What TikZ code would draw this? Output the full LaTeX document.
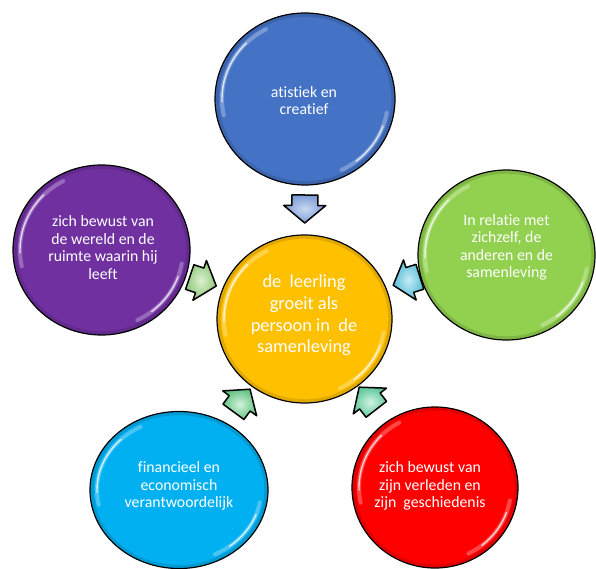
\documentclass[tikz,border=0pt]{standalone}
\usepackage{fontspec}
\setmainfont{Carlito}[Ligatures={NoCommon,NoContextual}]
\usetikzlibrary{shapes.geometric,calc}
\definecolor{cblue}{HTML}{4472C4}
\definecolor{cyellow}{HTML}{FFC000}
\definecolor{cgreen}{HTML}{92D050}
\definecolor{cpurple}{HTML}{7030A0}
\definecolor{ccyan}{HTML}{00B0F0}
\definecolor{cred}{HTML}{FF0000}
\definecolor{abluein}{HTML}{C9D8F2}\definecolor{ablueout}{HTML}{7D9DD6}
\definecolor{agreenin}{HTML}{DDF2D0}\definecolor{agreenout}{HTML}{8FC77A}
\definecolor{acyanin}{HTML}{C6ECF5}\definecolor{acyanout}{HTML}{55BDD6}
\definecolor{amintin}{HTML}{D2F2DB}\definecolor{amintout}{HTML}{66C383}
\definecolor{aseain}{HTML}{D0F3E4}\definecolor{aseaout}{HTML}{62C89C}
\tikzset{
  bub/.style={ellipse, draw=black, line width=1.2pt, inner sep=0pt, outer sep=0pt},
  btxt/.style={text=white, align=center, inner sep=0pt, font=\fontsize{15.8}{17.4}\selectfont},
  ctxt/.style={text=white, align=center, inner sep=0pt, font=\fontsize{18.4}{21.6}\selectfont},
  blockarrow/.pic={
    \shadedraw[line width=1.5pt, line join=round, inner color=#1in, outer color=#1out]
      (-14,-13) -- (-3.5,-13) -- (-3.5,-21) -- (14,0) -- (-3.5,21)
      -- (-3.5,13) -- (-14,13) -- cycle;
  }
}
\newcommand\gloss[3]{%
  \pgfmathsetmacro\gra{#2-7}\pgfmathsetmacro\grb{#3-7}%
  \pgfmathsetmacro\grc{#2-2.2}\pgfmathsetmacro\grd{#3-2.2}%
  \begin{scope}[shift={(#1.center)}]
    \draw[black, opacity=0.12, line width=3pt] (0:\grc pt and \grd pt) arc[start angle=0, end angle=360, x radius=\grc pt, y radius=\grd pt];
    \draw[white, opacity=0.28, line width=4pt, line cap=round] (118:\gra pt and \grb pt) arc[start angle=118, end angle=192, x radius=\gra pt, y radius=\grb pt];
    \draw[white, opacity=0.75, line width=1.4pt, line cap=round] (135:\gra pt and \grb pt) arc[start angle=135, end angle=182, x radius=\gra pt, y radius=\grb pt];
    \draw[white, opacity=0.28, line width=4pt, line cap=round] (-64:\gra pt and \grb pt) arc[start angle=-64, end angle=-10, x radius=\gra pt, y radius=\grb pt];
    \draw[white, opacity=0.75, line width=1.4pt, line cap=round] (-52:\gra pt and \grb pt) arc[start angle=-52, end angle=-20, x radius=\gra pt, y radius=\grb pt];
  \end{scope}}
\begin{document}
\begin{tikzpicture}[x=1pt,y=1pt]
\useasboundingbox[fill=white] (0,0) rectangle (596,-569);
% circles
\node[bub, fill=cblue, minimum width=180pt, minimum height=172pt] (blue) at (305,-99) {};
\node[bub, fill=cpurple, minimum width=177pt, minimum height=170pt] (purple) at (101.5,-250) {};
\node[bub, fill=cgreen, minimum width=177pt, minimum height=170pt] (green) at (506.5,-255) {};
\node[bub, fill=cyellow, minimum width=175pt, minimum height=168pt] (yellow) at (304.5,-319) {};
\node[bub, fill=ccyan, minimum width=178pt, minimum height=157pt] (cyan) at (179,-490) {};
\node[bub, fill=cred, minimum width=166pt, minimum height=161pt] (red) at (435,-487.5) {};
\gloss{blue}{90}{86}
\gloss{purple}{88.5}{85}
\gloss{green}{88.5}{85}
\gloss{yellow}{87.5}{84}
\gloss{cyan}{89}{78.5}
\gloss{red}{83}{80.5}
% texts
\node[btxt] (tblue) at (304,-100.5) {atistiek en\\creatief};
\node[btxt] (tpurple) at (103,-247.5) {zich bewust van\\de wereld en de\\ruimte waarin hij\\leeft};
\node[btxt] (tgreen) at (506.5,-247.5) {In relatie met\\zichzelf, de\\anderen en de\\samenleving};
\node[ctxt] (tyellow) at (304,-315.5) {de\ \ leerling\\groeit als\\persoon in\ \ de\\samenleving};
\node[btxt] (tcyan) at (179,-486) {financieel en\\economisch\\verantwoordelijk};
\node[btxt] (tred) at (430,-486) {zich bewust van\\zijn verleden en\\zijn\ \ geschiedenis};
% arrows
\path let \p1=($(yellow)-(blue)$), \n1={atan2(\y1,\x1)} in
  pic[rotate=\n1] at ($(blue)!0.5!(yellow)$) {blockarrow=ablue};
\path let \p1=($(yellow)-(purple)$), \n1={atan2(\y1,\x1)} in
  pic[rotate=\n1] at ($(purple)!0.5!(yellow)+(0,3)$) {blockarrow=agreen};
\path let \p1=($(yellow)-(green)$), \n1={atan2(\y1,\x1)} in
  pic[rotate=\n1] at ($(green)!0.5!(yellow)+(1,6)$) {blockarrow=acyan};
\path let \p1=($(yellow)-(cyan)$), \n1={atan2(\y1,\x1)} in
  pic[rotate=\n1] at ($(cyan)!0.5!(yellow)+(0,4)$) {blockarrow=amint};
\path let \p1=($(yellow)-(red)$), \n1={atan2(\y1,\x1)} in
  pic[rotate=\n1] at ($(red)!0.5!(yellow)+(-2,5)$) {blockarrow=asea};
\end{tikzpicture}
\end{document}
